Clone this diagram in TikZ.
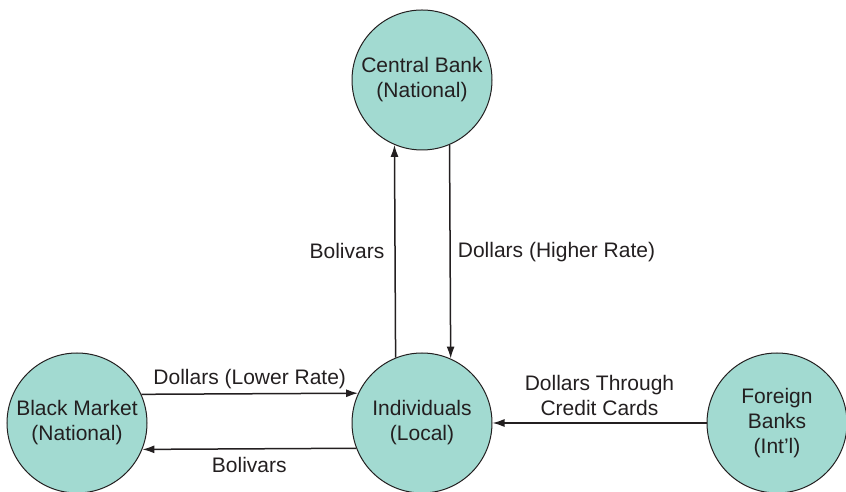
\documentclass[tikz,border=0pt]{standalone}
\usepackage{xcolor}
\usepackage{fontspec}
\setmainfont{Liberation Sans}
\usepackage{tikz}
\usetikzlibrary{positioning, arrows.meta, calc}
\definecolor{flowteal}{HTML}{A2DAD1}
\definecolor{flowink}{HTML}{231F20}

\begin{document}
\begin{tikzpicture}[x=1pt, y=1pt, font=\fontsize{21}{25}\selectfont, text=flowink,
    party/.style={circle, draw=flowink, fill=flowteal, line width=1pt,
                  minimum size=140pt, inner sep=0pt, align=center},
    flow/.style={draw=flowink, line width=1.5pt, -{Latex[length=12pt, width=8pt]}},
    flowlabel/.style={inner sep=4pt, align=center}]
  \useasboundingbox (0,0) rectangle (846,492);

  % the four parties
  \node[party] (indiv) at (422,69) {Individuals\\(Local)};
  \node[party, above=202pt of indiv] (central) {Central Bank\\(National)};
  \node[party, left=204pt of indiv] (black) {Black Market\\(National)};
  \node[party, right=214pt of indiv] (foreign) {Foreign\\Banks\\(Int'l)};

  % central bank exchange
  \draw[flow] (indiv.112.7) -- node[flowlabel, left=6pt] {Bolivars} (central.247.3);
  \draw[flow] (central.293.6) -- node[flowlabel, right=3pt] {Dollars (Higher Rate)} (indiv.66.4);

  % black market exchange
  \draw[flow] (black.24.5) -- node[flowlabel, above=0pt] {Dollars (Lower Rate)} (indiv.155.5);
  \draw[flow] (indiv.201.8) -- node[flowlabel, below=4pt] {Bolivars} (black.338.2);

  % foreign banks
  \draw[flow] (foreign.west) -- node[flowlabel, above=3pt] {Dollars Through\\Credit Cards} (indiv.east);
\end{tikzpicture}
\end{document}
